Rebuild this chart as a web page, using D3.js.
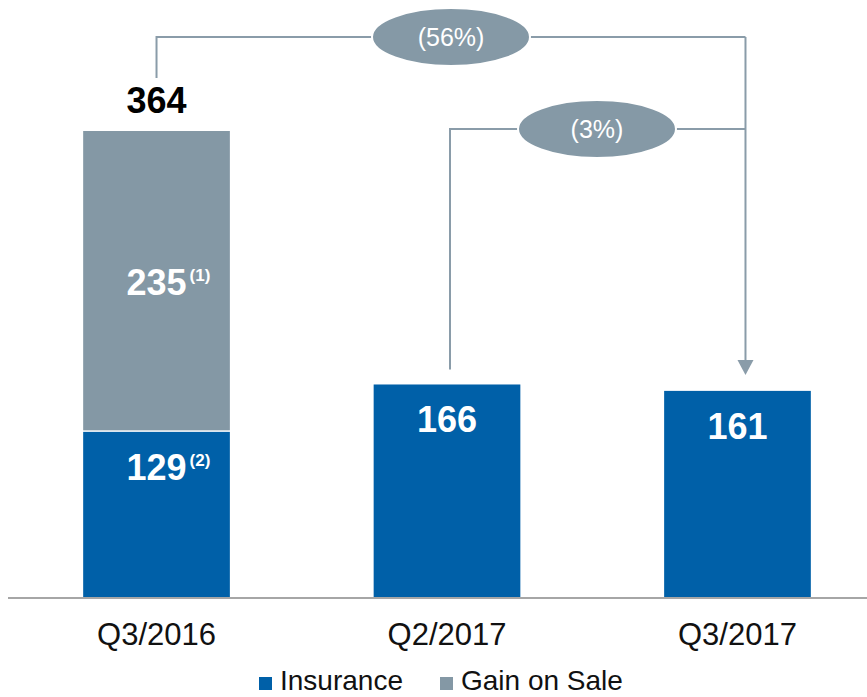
<!DOCTYPE html>
<html>
<head>
<meta charset="utf-8">
<script src="https://cdn.jsdelivr.net/npm/d3@7"></script>
<style>
  body { margin: 0; background: #fff; }
  svg { display: block; font-family: "Liberation Sans", Arial, sans-serif; }
</style>
</head>
<body>
<div id="chart"></div>
<script>
// data
const categories = ["Q3/2016", "Q2/2017", "Q3/2017"];
const insurance = [129, 166, 161];
const gainOnSale = [235, 0, 0];
const totals = [364, null, null];
const insuranceNotes = ["(2)", "", ""];
const gainNotes = ["(1)", "", ""];
const seriesNames = ["Insurance", "Gain on Sale"];
const changes = [
  { from: "Q3/2016", to: "Q3/2017", text: "(56%)" },
  { from: "Q2/2017", to: "Q3/2017", text: "(3%)" },
];

const width = 867, height = 697;
const blue = "#0060a8", grey = "#8498a5", lineGrey = "#8a9ca9";

const svg = d3.select("#chart").append("svg")
  .attr("width", width).attr("height", height);

const x = d3.scaleBand().domain(categories).range([12, 882]).paddingInner(0.495).paddingOuter(0.245);
const y = d3.scaleLinear().domain([0, 364]).range([597, 131]);

const rows = categories.map((c, i) => ({
  cat: c, ins: insurance[i], gain: gainOnSale[i], total: totals[i],
  insNote: insuranceNotes[i], gainNote: gainNotes[i]
}));

// bars - insurance
svg.selectAll(".ins").data(rows).enter().append("rect")
  .attr("class", "ins")
  .attr("x", d => x(d.cat))
  .attr("width", x.bandwidth())
  .attr("y", d => y(d.ins))
  .attr("height", d => y(0) - y(d.ins))
  .attr("fill", blue);

// bars - gain on sale
svg.selectAll(".gain").data(rows.filter(d => d.gain > 0)).enter().append("rect")
  .attr("class", "gain")
  .attr("x", d => x(d.cat))
  .attr("width", x.bandwidth())
  .attr("y", d => y(d.ins + d.gain))
  .attr("height", d => y(d.ins) - y(d.ins + d.gain) - 1.5)
  .attr("fill", grey);

// axis line
svg.append("line")
  .attr("x1", 8).attr("x2", width)
  .attr("y1", y(0) + 1).attr("y2", y(0) + 1)
  .attr("stroke", "#a6a6a6").attr("stroke-width", 2);

// category labels
svg.selectAll(".cat").data(categories).enter().append("text")
  .attr("x", d => x(d) + x.bandwidth() / 2)
  .attr("y", 645)
  .attr("text-anchor", "middle")
  .attr("font-size", 31)
  .attr("fill", "#111")
  .text(d => d);

// value labels inside bars
function valueLabel(sel, val, note, yPos, cx) {
  const t = sel.append("text")
    .attr("x", cx).attr("y", yPos)
    .attr("text-anchor", "middle")
    .attr("font-size", 36).attr("font-weight", "bold")
    .attr("fill", "#fff")
    .text(val);
  if (note) {
    const w = t.node().getComputedTextLength();
    sel.append("text")
      .attr("x", cx + w / 2 + 3).attr("y", yPos - 14)
      .attr("font-size", 17).attr("font-weight", "bold")
      .attr("fill", "#fff")
      .text(note);
  }
}
rows.forEach(d => {
  const cx = x(d.cat) + x.bandwidth() / 2;
  valueLabel(svg, d.ins, d.insNote, y(d.ins) + 48, cx);
  if (d.gain > 0) {
    valueLabel(svg, d.gain, d.gainNote, (y(d.ins) + y(d.ins + d.gain)) / 2 + 14, cx);
  }
  if (d.total != null) {
    svg.append("text")
      .attr("x", cx).attr("y", y(d.total) - 18)
      .attr("text-anchor", "middle")
      .attr("font-size", 36).attr("font-weight", "bold")
      .attr("fill", "#000")
      .text(d.total);
  }
});

// change connectors
const levels = [37, 129];
const arrowX = x("Q3/2017") + x.bandwidth() / 2 + 8;
const tipY = y(161) - 16;
const bubbleX = [451, 597];
changes.forEach((c, i) => {
  const fx = x(c.from) + x.bandwidth() / 2 + (i === 0 ? 0 : 3);
  const startY = i === 0 ? y(364) - 53 : y(166) - 15;
  const ly = levels[i];
  svg.append("path")
    .attr("d", `M${fx},${startY} V${ly} H${arrowX}`)
    .attr("fill", "none").attr("stroke", lineGrey).attr("stroke-width", 2);
  svg.append("ellipse")
    .attr("cx", bubbleX[i])
    .attr("cy", ly)
    .attr("rx", 79).attr("ry", 29)
    .attr("fill", "#8599a6").attr("stroke", "#fff").attr("stroke-width", 2);
  svg.append("text")
    .attr("x", bubbleX[i])
    .attr("y", ly + 9)
    .attr("text-anchor", "middle")
    .attr("font-size", 25).attr("fill", "#fff")
    .text(c.text);
});
svg.append("line")
  .attr("x1", arrowX).attr("x2", arrowX)
  .attr("y1", levels[0]).attr("y2", tipY - 14)
  .attr("stroke", lineGrey).attr("stroke-width", 2);
svg.append("path")
  .attr("d", `M${arrowX - 8},${tipY - 15} L${arrowX + 8},${tipY - 15} L${arrowX},${tipY} Z`)
  .attr("fill", lineGrey);

// legend
const legend = svg.append("g").attr("transform", "translate(259,677)");
const legX = [0, 181];
seriesNames.forEach((s, i) => {
  legend.append("rect")
    .attr("x", legX[i]).attr("y", 0)
    .attr("width", 13).attr("height", 13)
    .attr("fill", i === 0 ? blue : grey);
  legend.append("text")
    .attr("x", legX[i] + 21).attr("y", 13)
    .attr("font-size", 28).attr("fill", "#111")
    .text(s);
});
</script>
</body>
</html>
